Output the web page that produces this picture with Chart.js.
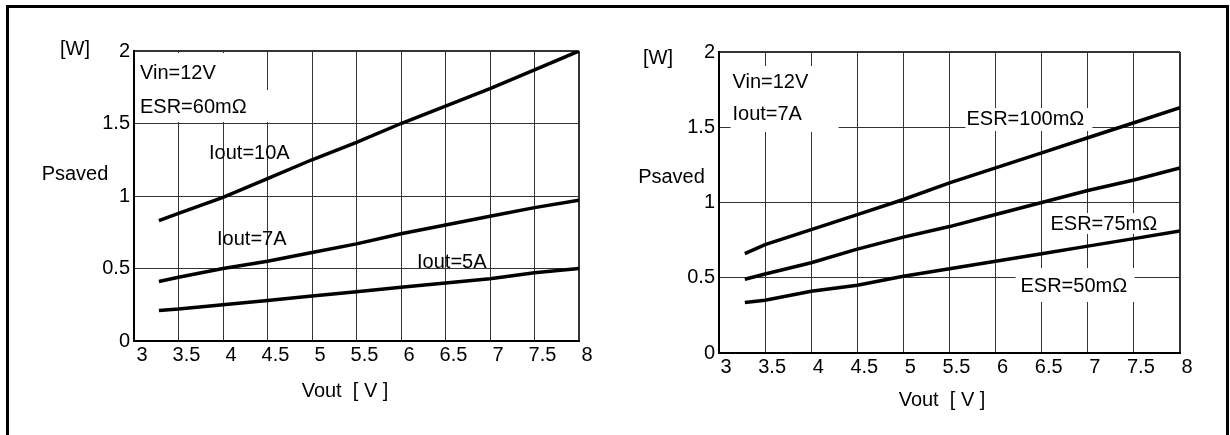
<!DOCTYPE html>
<html>
<head>
<meta charset="utf-8">
<script src="https://cdn.jsdelivr.net/npm/chart.js@4.4.1/dist/chart.umd.min.js"></script>
<style>
  html, body { margin: 0; padding: 0; background: #fff; overflow: hidden; }
  #frame { position: absolute; left: 6px; top: 5px; width: 1223px; height: 440px; border: 3px solid #000; border-bottom: none; box-sizing: border-box; }
  canvas { position: absolute; top: 0; }
  #leftChart { left: 0; }
  #rightChart { left: 615px; }
</style>
</head>
<body>
<div id="frame"></div>
<canvas id="leftChart" width="615" height="435"></canvas>
<canvas id="rightChart" width="615" height="435"></canvas>
<script>
// output voltage samples [V]
const vout = [3.28, 3.5, 4, 4.5, 5, 5.5, 6, 6.5, 7, 7.5, 8];

// left chart: ESR=60mOhm, different load currents [W]
const iout10A = [0.83, 0.88, 0.99, 1.12, 1.25, 1.37, 1.50, 1.62, 1.74, 1.87, 2.00];
const iout7A  = [0.41, 0.44, 0.50, 0.55, 0.61, 0.67, 0.74, 0.80, 0.86, 0.92, 0.97];
const iout5A  = [0.21, 0.22, 0.25, 0.28, 0.31, 0.34, 0.37, 0.40, 0.43, 0.47, 0.50];

// right chart: Iout=7A, different ESR [W]
const esr100 = [0.66, 0.72, 0.82, 0.92, 1.02, 1.13, 1.23, 1.33, 1.43, 1.53, 1.63];
const esr75  = [0.49, 0.525, 0.60, 0.69, 0.77, 0.84, 0.92, 1.00, 1.08, 1.15, 1.23];
const esr50  = [0.335, 0.35, 0.41, 0.45, 0.51, 0.56, 0.61, 0.66, 0.71, 0.76, 0.81];

const xTicks = [3, 3.5, 4, 4.5, 5, 5.5, 6, 6.5, 7, 7.5, 8];
const xTickLabels = ['3', '3.5', '4', '4.5', '5', '5.5', '6', '6.5', '7', '7.5', '8'];
const yTicks = [0, 0.5, 1, 1.5, 2];
const yTickLabels = ['0', '0.5', '1', '1.5', '2'];

const xTitle = 'Vout  [ V ]';
const yTitle = 'Psaved';
const yUnit = '[W]';

// text labels inside the plots, placed in data units (x = V, y = W at text baseline)
const leftNotes = [
  { text: 'Vin=12V',    x: 3.067, y: 1.81 },
  { text: 'ESR=60mΩ',   x: 3.067, y: 1.575 },
  { text: 'Iout=10A',   x: 3.843, y: 1.255 },
  { text: 'Iout=7A',    x: 3.933, y: 0.662 },
  { text: 'Iout=5A',    x: 6.18,  y: 0.503 }
];
const rightNotes = [
  { text: 'Vin=12V',    x: 3.146, y: 1.761 },
  { text: 'Iout=7A',    x: 3.146, y: 1.548 },
  { text: 'ESR=100mΩ',  x: 5.684, y: 1.515 },
  { text: 'ESR=75mΩ',   x: 6.595, y: 0.817 },
  { text: 'ESR=50mΩ',   x: 6.27,  y: 0.407 }
];
// white patches behind some labels [x0, yTop, x1, yBottom]
const leftBoxes = [
  [3.034, 1.986, 4.36, 1.731],
  [3.034, 1.731, 4.55, 1.51]
];
const rightBoxes = [
  [3.125, 1.907, 4.297, 1.468],
  [5.673, 1.628, 7.05, 1.475],
  [6.56, 0.93, 7.8, 0.791],
  [6.216, 0.565, 7.507, 0.339]
];

const FONT = '"Liberation Sans", Arial, sans-serif';
Chart.defaults.font.family = FONT;
Chart.defaults.font.size = 20;
Chart.defaults.color = '#000';

const notesPlugin = {
  id: 'notes',
  beforeDatasetsDraw(chart, args, opts) {
    const { ctx, chartArea: a } = chart;
    const x = chart.scales.x, y = chart.scales.y;
    ctx.save();
    ctx.fillStyle = '#fff';
    opts.boxes.forEach(b => {
      const x0 = x.getPixelForValue(b[0]), x1 = x.getPixelForValue(b[2]);
      const y0 = y.getPixelForValue(b[1]), y1 = y.getPixelForValue(b[3]);
      ctx.fillRect(x0, y0, x1 - x0, y1 - y0);
    });
    ctx.fillStyle = '#000';
    ctx.font = '20px ' + FONT;
    ctx.textAlign = 'left';
    ctx.textBaseline = 'alphabetic';
    opts.notes.forEach(n => ctx.fillText(n.text, x.getPixelForValue(n.x), y.getPixelForValue(n.y)));

    ctx.textAlign = 'center';
    ctx.textBaseline = 'middle';
    const t = opts.titles;
    ctx.fillText(yUnit, a.left + t.unit[0], a.top + t.unit[1]);
    ctx.fillText(yTitle, a.left + t.name[0], t.name[1]);
    ctx.fillText(xTitle, (a.left + a.right) / 2 + t.vout[0], a.bottom + t.vout[1]);
    ctx.restore();
  }
};

function line(values) {
  return {
    data: vout.map((v, i) => ({ x: v, y: values[i] })),
    borderColor: '#000',
    borderWidth: 3.5,
    pointRadius: 0,
    tension: 0,
    fill: false
  };
}

function makeChart(id, series, notes, boxes, titles, padding, labelOffset) {
  const ctx = document.getElementById(id).getContext('2d');
  return new Chart(ctx, {
    type: 'line',
    data: { datasets: series.map(line) },
    options: {
      responsive: false,
      devicePixelRatio: 1,
      animation: false,
      layout: { padding: padding },
      plugins: {
        legend: { display: false },
        tooltip: { enabled: false },
        notes: { notes: notes, boxes: boxes, titles: titles }
      },
      scales: {
        x: {
          type: 'linear',
          min: 3,
          max: 8,
          afterBuildTicks: s => { s.ticks = xTicks.map(v => ({ value: v })); },
          afterFit: s => { s.height = 40; },
          ticks: {
            padding: 2,
            labelOffset: labelOffset,
            autoSkip: false,
            maxRotation: 0,
            callback: (v, i) => xTickLabels[i]
          },
          grid: {
            color: '#333',
            lineWidth: c => (c.tick && c.tick.value === 8 ? 2 : 1),
            drawTicks: false
          },
          border: { display: true, color: '#000', width: 2 }
        },
        y: {
          min: 0,
          max: 2,
          afterBuildTicks: s => { s.ticks = yTicks.map(v => ({ value: v })); },
          afterFit: s => { s.width = 40; },
          ticks: { padding: 4, callback: (v, i) => yTickLabels[i] },
          grid: {
            color: '#333',
            lineWidth: c => (c.tick && c.tick.value === 2 ? 2 : 1),
            drawTicks: false
          },
          border: { display: true, color: '#000', width: 2 }
        }
      }
    },
    plugins: [notesPlugin]
  });
}

makeChart('leftChart', [iout10A, iout7A, iout5A], leftNotes, leftBoxes,
  { unit: [-59, -2], name: [-59, 174.5], vout: [-11.5, 50] },
  { left: 94, right: 36, top: 51, bottom: 54 }, 8);

makeChart('rightChart', [esr100, esr75, esr50], rightNotes, rightBoxes,
  { unit: [-61, 6], name: [-47.5, 177], vout: [-7.5, 47.5] },
  { left: 64, right: 50, top: 52, bottom: 42 }, 7);
</script>
</body>
</html>
